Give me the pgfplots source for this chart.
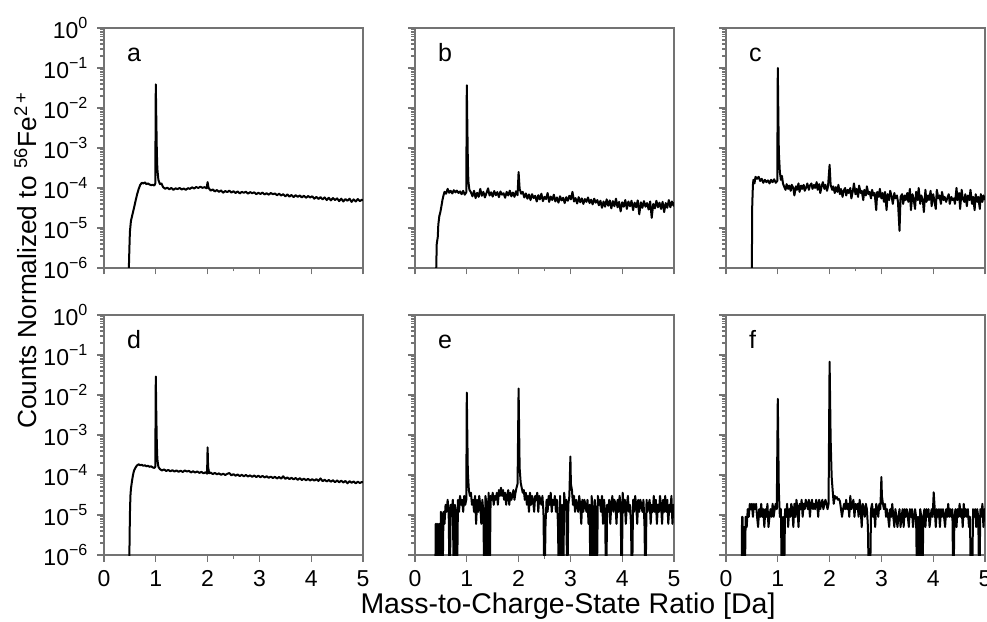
\documentclass[border=0pt]{standalone}
\usepackage{fontspec}
\setmainfont{Liberation Sans}
\usepackage{pgfplots}
\pgfplotsset{compat=1.18}
\usepgfplotslibrary{groupplots}
\usetikzlibrary{calc}

\pgfplotsset{
  spec/.style={
    scale only axis, width=103.6pt, height=96pt,
    xmin=0, xmax=5, ymode=log, ymin=1e-6, ymax=1,
    xtick={0,1,2,3,4,5}, minor xtick={2.5},
    ytick={1e-6,1e-5,1e-4,1e-3,1e-2,1e-1,1},
    yticklabels={10\textsuperscript{−6},10\textsuperscript{−5},10\textsuperscript{−4},10\textsuperscript{−3},10\textsuperscript{−2},10\textsuperscript{−1},10\textsuperscript{0}},
    minor ytick={2e-6,3e-6,4e-6,5e-6,6e-6,7e-6,8e-6,9e-6,
      2e-5,3e-5,4e-5,5e-5,6e-5,7e-5,8e-5,9e-5,
      2e-4,3e-4,4e-4,5e-4,6e-4,7e-4,8e-4,9e-4,
      2e-3,3e-3,4e-3,5e-3,6e-3,7e-3,8e-3,9e-3,
      2e-2,3e-2,4e-2,5e-2,6e-2,7e-2,8e-2,9e-2,
      0.2,0.3,0.4,0.5,0.6,0.7,0.8,0.9},
    tick pos=left, tick align=outside,
    major tick length=2.6pt, minor tick length=1.4pt,
    axis line style={black!55, line width=0.5pt},
    every tick/.style={black!55, line width=0.5pt},
    ticklabel style={font=\fontsize{9.2}{11}\selectfont, text=black},
    /pgf/number format/assume math mode=true,
  },
  dat/.style={black, mark=none, line width=0.8pt, line join=round},
}
\tikzset{letter/.style={anchor=base west, font=\fontsize{10}{12}\selectfont}}

\begin{document}
\begin{tikzpicture}
\begin{groupplot}[
  group style={group size=3 by 2, horizontal sep=20.8pt, vertical sep=18.8pt,
    x descriptions at=edge bottom, y descriptions at=edge left},
  spec]

% a
\nextgroupplot
\addplot[dat] coordinates {
(0.47,1e-7)(0.48,1e-6)(0.49,3e-6)(0.50,8e-6)(0.52,1.5e-5)(0.55,2.2e-5)(0.58,3.2e-5)(0.61,4.8e-5)(0.64,7e-5)(0.67,9.5e-5)
(0.70,1.2e-4)(0.73,1.35e-4)(0.76,1.3e-4)(0.79,1.38e-4)(0.82,1.25e-4)(0.85,1.3e-4)(0.88,1.22e-4)(0.91,1.18e-4)(0.94,1.2e-4)(0.97,1.15e-4)
(0.99,1.3e-4)(1.00,3.9e-2)(1.01,5e-3)(1.02,8e-4)(1.03,3e-4)(1.05,1.6e-4)(1.08,1.25e-4)(1.11,1.3e-4)(1.14,1.05e-4)
(1.18,9.6e-5)(1.22,1.02e-4)(1.26,9.3e-5)(1.30,1.0e-4)(1.34,9.0e-5)(1.38,9.8e-5)(1.42,9.4e-5)(1.46,1.0e-4)(1.50,9.2e-5)(1.54,9.7e-5)
(1.58,9.0e-5)(1.62,9.9e-5)(1.66,9.5e-5)(1.70,1.04e-4)(1.74,9.7e-5)(1.78,1.06e-4)(1.82,1.0e-4)(1.86,1.08e-4)(1.90,1.01e-4)(1.94,1.05e-4)
(1.98,9.8e-5)(2.00,1.4e-4)(2.02,1.0e-4)(2.06,8.6e-5)(2.10,9.2e-5)(2.14,8.2e-5)(2.18,8.9e-5)(2.22,8.0e-5)(2.26,8.7e-5)(2.30,7.6e-5)
(2.34,8.4e-5)(2.38,7.9e-5)(2.42,8.6e-5)(2.46,7.7e-5)(2.50,8.3e-5)(2.54,7.5e-5)(2.58,8.2e-5)(2.62,7.3e-5)(2.66,8.0e-5)(2.70,7.6e-5)
(2.74,8.1e-5)(2.78,7.2e-5)(2.82,7.9e-5)(2.86,7.4e-5)(2.90,7.8e-5)(2.94,7.0e-5)(2.98,7.6e-5)(3.02,7.1e-5)(3.06,7.7e-5)(3.10,6.9e-5)
(3.14,7.4e-5)(3.18,6.8e-5)(3.22,7.5e-5)(3.26,7.0e-5)(3.30,7.3e-5)(3.34,6.6e-5)(3.38,7.2e-5)(3.42,6.5e-5)(3.46,7.0e-5)(3.50,6.2e-5)
(3.54,6.9e-5)(3.58,6.1e-5)(3.62,6.7e-5)(3.66,5.9e-5)(3.70,6.6e-5)(3.74,6.0e-5)(3.78,6.5e-5)(3.82,5.8e-5)(3.86,6.4e-5)(3.90,5.7e-5)
(3.94,6.3e-5)(3.98,5.8e-5)(4.02,6.2e-5)(4.06,5.4e-5)(4.10,6.0e-5)(4.14,5.3e-5)(4.18,5.9e-5)(4.22,5.2e-5)(4.26,5.8e-5)(4.30,5.0e-5)
(4.34,5.7e-5)(4.38,4.9e-5)(4.42,5.6e-5)(4.46,5.0e-5)(4.50,5.5e-5)(4.54,4.7e-5)(4.58,5.4e-5)(4.62,4.6e-5)(4.66,5.3e-5)(4.70,4.8e-5)
(4.74,5.4e-5)(4.78,4.5e-5)(4.82,5.2e-5)(4.86,4.6e-5)(4.90,5.3e-5)(4.94,4.7e-5)(4.98,5.1e-5)(5.00,4.9e-5)
};
\node[letter] at (rel axis cs:0.055,0.86) {a};

% b
\nextgroupplot
\addplot[dat] coordinates {
(0.40,1e-7)(0.41,1e-6)(0.42,4e-6)(0.44,6e-6)(0.45,1.2e-5)(0.47,2e-5)(0.49,2.5e-5)(0.51,3.5e-5)(0.53,5e-5)(0.55,6.5e-5)
(0.57,8e-5)(0.60,7.2e-5)(0.63,9.5e-5)(0.66,7.6e-5)(0.69,8.5e-5)(0.72,7.3e-5)(0.75,8.8e-5)(0.78,7.8e-5)(0.81,8.6e-5)(0.84,7.5e-5)
(0.87,8.2e-5)(0.90,7e-5)(0.93,8.5e-5)(0.96,6.8e-5)(0.99,7.8e-5)(1.00,3.7e-2)(1.01,4e-3)(1.02,5e-4)(1.03,1.5e-4)(1.05,9e-5)
(1.08,7.8e-5)(1.11,6.2e-5)(1.14,8.5e-5)(1.17,5.6e-5)(1.20,7.6e-5)(1.23,6.0e-5)(1.26,9.5e-5)(1.29,6.4e-5)(1.32,8.0e-5)(1.35,5.8e-5)
(1.38,7.5e-5)(1.41,9.8e-5)(1.44,6.5e-5)(1.47,7.8e-5)(1.50,6.1e-5)(1.53,8.4e-5)(1.56,6.6e-5)(1.59,7.9e-5)(1.62,5.9e-5)(1.65,8.2e-5)
(1.68,6.8e-5)(1.71,7.4e-5)(1.74,5.7e-5)(1.77,8.0e-5)(1.80,6.5e-5)(1.83,8.6e-5)(1.86,6.2e-5)(1.89,7.7e-5)(1.92,6.0e-5)(1.95,8.3e-5)
(1.98,6.6e-5)(2.00,2.5e-4)(2.02,9.5e-5)(2.05,7.2e-5)(2.08,8.0e-5)(2.11,5.8e-5)(2.14,7.3e-5)(2.17,5.4e-5)(2.20,6.9e-5)(2.23,5.0e-5)
(2.26,7.0e-5)(2.29,5.6e-5)(2.32,6.4e-5)(2.35,4.6e-5)(2.38,6.6e-5)(2.41,5.2e-5)(2.44,7.2e-5)(2.47,4.7e-5)(2.50,6.0e-5)(2.53,5.3e-5)
(2.56,7.5e-5)(2.59,4.5e-5)(2.62,6.1e-5)(2.65,5.0e-5)(2.68,6.8e-5)(2.71,4.6e-5)(2.74,5.8e-5)(2.77,4.3e-5)(2.80,6.2e-5)(2.83,4.9e-5)
(2.86,5.7e-5)(2.89,4.2e-5)(2.92,5.9e-5)(2.95,4.8e-5)(2.98,6.4e-5)(3.01,5.2e-5)(3.04,8.0e-5)(3.07,4.6e-5)(3.10,5.6e-5)(3.13,4.1e-5)
(3.16,5.9e-5)(3.19,4.4e-5)(3.22,5.5e-5)(3.25,4.0e-5)(3.28,5.3e-5)(3.31,4.5e-5)(3.34,5.8e-5)(3.37,4.2e-5)(3.40,5.1e-5)(3.43,3.9e-5)
(3.46,5.4e-5)(3.49,4.3e-5)(3.52,5.0e-5)(3.55,3.7e-5)(3.58,4.8e-5)(3.61,3.2e-5)(3.64,4.6e-5)(3.67,3.4e-5)(3.70,5.2e-5)(3.73,3.6e-5)
(3.76,4.9e-5)(3.79,3.1e-5)(3.82,4.7e-5)(3.85,3.5e-5)(3.88,5.4e-5)(3.91,3.3e-5)(3.94,4.5e-5)(3.97,2.6e-5)(4.00,4.4e-5)(4.03,3.4e-5)
(4.06,5.0e-5)(4.09,3.0e-5)(4.12,4.6e-5)(4.15,3.5e-5)(4.18,4.8e-5)(4.21,2.8e-5)(4.24,4.3e-5)(4.27,3.3e-5)(4.30,4.9e-5)(4.33,2.2e-5)
(4.36,4.4e-5)(4.39,3.2e-5)(4.42,4.7e-5)(4.45,3.4e-5)(4.48,4.2e-5)(4.51,2.9e-5)(4.54,4.6e-5)(4.57,1.8e-5)(4.60,4.0e-5)(4.63,3.1e-5)
(4.66,4.8e-5)(4.69,3.3e-5)(4.72,4.3e-5)(4.75,3.0e-5)(4.78,4.5e-5)(4.81,2.5e-5)(4.84,4.2e-5)(4.87,3.2e-5)(4.90,5.0e-5)(4.93,3.3e-5)
(4.96,4.6e-5)(4.99,3.6e-5)(5.00,4.4e-5)
};
\node[letter] at (rel axis cs:0.055,0.86) {b};

% c
\nextgroupplot
\addplot[dat] coordinates {
(0.49,1e-7)(0.50,1e-6)(0.505,3e-5)(0.51,5e-5)(0.52,1.2e-4)(0.53,1.6e-4)(0.55,1.3e-4)(0.57,1.9e-4)(0.60,1.7e-4)(0.63,1.9e-4)
(0.66,1.5e-4)(0.69,1.7e-4)(0.72,1.35e-4)(0.75,1.6e-4)(0.78,1.4e-4)(0.81,1.55e-4)(0.84,1.3e-4)(0.87,1.6e-4)(0.90,1.4e-4)(0.93,1.65e-4)
(0.96,1.35e-4)(0.99,1.5e-4)(1.00,1e-1)(1.01,8e-3)(1.02,8e-4)(1.04,2.5e-4)(1.06,1.6e-4)(1.08,2e-4)(1.10,1.3e-4)
(1.12,1.1e-4)(1.15,9.0e-5)(1.17,1.25e-4)(1.20,9.5e-5)(1.22,1.15e-4)(1.25,8.5e-5)(1.27,1.2e-4)(1.30,1.0e-4)(1.32,6.5e-5)(1.35,1.1e-4)
(1.37,9.0e-5)(1.40,1.3e-4)(1.42,8.0e-5)(1.45,1.15e-4)(1.47,9.5e-5)(1.50,1.2e-4)(1.52,8.5e-5)(1.55,1.05e-4)(1.57,1.3e-4)(1.60,9.0e-5)
(1.62,1.15e-4)(1.65,1.3e-4)(1.67,9.5e-5)(1.70,1.2e-4)(1.72,1.0e-4)(1.75,1.4e-4)(1.77,9.0e-5)(1.80,1.25e-4)(1.82,7.5e-5)(1.85,1.15e-4)
(1.87,1.4e-4)(1.90,9.5e-5)(1.92,1.2e-4)(1.95,8.5e-5)(1.97,1.1e-4)(2.00,3.8e-4)(2.02,1.2e-4)(2.05,9.0e-5)(2.07,1.1e-4)(2.10,7.5e-5)
(2.12,1.05e-4)(2.15,8.0e-5)(2.17,1.2e-4)(2.20,7.0e-5)(2.22,9.5e-5)(2.25,6.0e-5)(2.27,8.5e-5)(2.30,1.0e-4)(2.32,6.5e-5)(2.35,9.0e-5)
(2.37,7.5e-5)(2.40,1.0e-4)(2.42,5.5e-5)(2.45,8.5e-5)(2.47,1.3e-4)(2.50,7.0e-5)(2.52,9.5e-5)(2.55,6.0e-5)(2.57,1.15e-4)(2.60,7.5e-5)
(2.62,8.5e-5)(2.65,5.0e-5)(2.67,9.0e-5)(2.70,6.5e-5)(2.72,1.1e-4)(2.75,7.0e-5)(2.77,8.0e-5)(2.80,5.5e-5)(2.82,9.0e-5)(2.85,6.5e-5)
(2.87,7.5e-5)(2.90,2.8e-5)(2.92,8.0e-5)(2.95,6.0e-5)(2.97,9.5e-5)(3.00,5.5e-5)(3.02,7.5e-5)(3.05,4.5e-5)(3.07,8.0e-5)(3.10,2.8e-5)
(3.12,7.0e-5)(3.15,5.0e-5)(3.17,8.5e-5)(3.20,6.0e-5)(3.22,4.0e-5)(3.25,7.5e-5)(3.27,5.5e-5)(3.30,6.5e-5)(3.32,4.5e-5)(3.35,8.5e-6)
(3.37,6.0e-5)(3.40,7.0e-5)(3.42,4.0e-5)(3.45,6.5e-5)(3.47,5.0e-5)(3.50,7.5e-5)(3.52,4.5e-5)(3.55,9.5e-5)(3.57,2.8e-5)(3.60,7.0e-5)
(3.62,5.5e-5)(3.65,3.0e-5)(3.67,8.0e-5)(3.70,5.0e-5)(3.72,1.0e-4)(3.75,4.0e-5)(3.77,6.5e-5)(3.80,5.0e-5)(3.82,2.5e-5)(3.85,9.0e-5)
(3.87,4.5e-5)(3.90,6.5e-5)(3.92,5.0e-5)(3.95,8.5e-5)(3.97,3.5e-5)(4.00,7.0e-5)(4.02,5.0e-5)(4.05,3.0e-5)(4.07,9.0e-5)(4.10,5.5e-5)
(4.12,6.5e-5)(4.15,4.0e-5)(4.17,8.0e-5)(4.20,5.0e-5)(4.22,6.0e-5)(4.25,4.5e-5)(4.27,5.5e-5)(4.30,7.0e-5)(4.32,4.0e-5)(4.35,6.0e-5)
(4.37,5.0e-5)(4.40,5.5e-5)(4.42,4.0e-5)(4.45,1.0e-4)(4.47,5.0e-5)(4.50,7.5e-5)(4.52,3.0e-5)(4.55,9.0e-5)(4.57,5.5e-5)(4.60,4.5e-5)
(4.62,7.0e-5)(4.65,3.5e-5)(4.67,6.5e-5)(4.70,5.0e-5)(4.72,9.0e-5)(4.75,4.0e-5)(4.77,6.0e-5)(4.80,2.8e-5)(4.82,7.0e-5)(4.85,4.5e-5)
(4.87,6.0e-5)(4.90,3.0e-5)(4.92,7.0e-5)(4.95,4.5e-5)(4.97,6.5e-5)(5.00,5.0e-5)
};
\node[letter] at (rel axis cs:0.055,0.86) {c};

% d
\nextgroupplot
\addplot[dat] coordinates {
(0.47,1e-7)(0.49,1e-6)(0.50,1e-5)(0.51,3e-5)(0.52,4.5e-5)(0.54,7e-5)(0.56,1e-4)(0.58,1.3e-4)(0.61,1.55e-4)(0.64,1.75e-4)
(0.67,1.85e-4)(0.70,1.75e-4)(0.73,1.8e-4)(0.76,1.7e-4)(0.79,1.75e-4)(0.82,1.65e-4)(0.85,1.7e-4)(0.88,1.6e-4)(0.91,1.65e-4)(0.94,1.55e-4)
(0.97,1.5e-4)(0.99,1.6e-4)(1.00,2.9e-2)(1.01,3e-3)(1.02,6e-4)(1.03,2.5e-4)(1.05,1.6e-4)(1.08,1.4e-4)
(1.12,1.3e-4)(1.16,1.38e-4)(1.20,1.26e-4)(1.24,1.34e-4)(1.28,1.24e-4)(1.32,1.32e-4)(1.36,1.22e-4)(1.40,1.3e-4)(1.44,1.2e-4)(1.48,1.28e-4)
(1.52,1.19e-4)(1.56,1.3e-4)(1.60,1.22e-4)(1.64,1.27e-4)(1.68,1.16e-4)(1.72,1.24e-4)(1.76,1.15e-4)(1.80,1.23e-4)(1.84,1.13e-4)(1.88,1.2e-4)
(1.92,1.1e-4)(1.96,1.17e-4)(1.99,1.08e-4)(2.00,4.9e-4)(2.01,1.6e-4)(2.03,1.1e-4)(2.06,1.15e-4)(2.10,1.05e-4)(2.14,1.13e-4)(2.18,1.04e-4)
(2.22,1.1e-4)(2.26,1.01e-4)(2.30,1.08e-4)(2.34,1.0e-4)(2.38,1.07e-4)(2.42,1.12e-4)(2.46,9.8e-5)(2.50,1.05e-4)(2.54,9.6e-5)(2.58,1.03e-4)
(2.62,9.4e-5)(2.66,1.01e-4)(2.70,9.3e-5)(2.74,1.0e-4)(2.78,9.2e-5)(2.82,9.8e-5)(2.86,9.0e-5)(2.90,9.7e-5)(2.94,8.9e-5)(2.98,9.6e-5)
(3.02,8.8e-5)(3.06,9.5e-5)(3.10,8.7e-5)(3.14,9.3e-5)(3.18,8.5e-5)(3.22,9.1e-5)(3.26,8.4e-5)(3.30,9.0e-5)(3.34,8.2e-5)(3.38,8.9e-5)
(3.42,8.1e-5)(3.46,9.3e-5)(3.50,8.0e-5)(3.54,8.7e-5)(3.58,7.9e-5)(3.62,8.5e-5)(3.66,7.8e-5)(3.70,8.4e-5)(3.74,7.6e-5)(3.78,8.3e-5)
(3.82,7.5e-5)(3.86,8.1e-5)(3.90,7.4e-5)(3.94,8.0e-5)(3.98,7.3e-5)(4.02,7.9e-5)(4.06,7.2e-5)(4.10,7.9e-5)(4.14,7.1e-5)(4.18,8.2e-5)
(4.22,7.0e-5)(4.26,7.6e-5)(4.30,6.9e-5)(4.34,7.5e-5)(4.38,6.8e-5)(4.42,7.4e-5)(4.46,6.6e-5)(4.50,7.3e-5)(4.54,6.6e-5)(4.58,7.2e-5)
(4.62,6.5e-5)(4.66,7.1e-5)(4.70,6.2e-5)(4.74,7.0e-5)(4.78,6.4e-5)(4.82,6.9e-5)(4.86,6.2e-5)(4.90,6.8e-5)(4.94,6.3e-5)(4.98,6.7e-5)
(5.00,6.5e-5)
};
\node[letter] at (rel axis cs:0.055,0.86) {d};

% e
\nextgroupplot
\addplot[dat] coordinates {
(0.39,1e-7)(0.40,6e-6)(0.41,6e-6)(0.42,1e-7)(0.44,6e-6)(0.45,1e-7)(0.47,6e-6)(0.48,1e-7)(0.50,1.2e-5)(0.52,6e-6)
(0.53,1e-7)(0.55,1.2e-5)(0.57,6e-6)(0.59,1.8e-5)(0.61,1.2e-5)(0.63,2.4e-5)(0.65,1.2e-5)(0.67,1e-7)(0.69,1.8e-5)(0.71,1.2e-5)
(0.73,2.4e-5)(0.75,1e-7)(0.77,1.8e-5)(0.79,1.2e-5)(0.81,1e-7)(0.83,2.4e-5)(0.85,1.2e-5)(0.87,3e-5)(0.89,1.8e-5)(0.91,2.4e-5)
(0.93,1.2e-5)(0.95,3e-5)(0.97,1.8e-5)(0.99,2.4e-5)(1.00,1.15e-2)(1.01,1e-3)(1.02,1.2e-4)(1.04,4.2e-5)(1.06,3e-5)(1.08,3.6e-5)
(1.10,1.8e-5)(1.12,2.4e-5)(1.14,1.2e-5)(1.16,3e-5)(1.18,6e-6)(1.20,2.4e-5)(1.22,1.2e-5)(1.24,3e-5)(1.26,1.8e-5)(1.28,6e-6)
(1.30,2.4e-5)(1.32,1.2e-5)(1.34,1e-7)(1.36,3e-5)(1.38,1.8e-5)(1.40,1e-7)(1.42,3.6e-5)(1.44,1e-7)(1.46,3e-5)(1.48,2.4e-5)
(1.50,3.6e-5)(1.52,1.8e-5)(1.54,3e-5)(1.56,2.4e-5)(1.58,3.6e-5)(1.60,1.8e-5)(1.62,4.2e-5)(1.64,3e-5)(1.66,4.8e-5)(1.68,3e-5)
(1.70,4.2e-5)(1.72,2.4e-5)(1.74,3.6e-5)(1.76,1.8e-5)(1.78,3e-5)(1.80,4.2e-5)(1.82,1.8e-5)(1.84,3.6e-5)(1.86,2.4e-5)(1.88,3e-5)
(1.90,4.2e-5)(1.92,2.4e-5)(1.94,3.6e-5)(1.96,4.8e-5)(1.98,6e-5)(2.00,1.45e-2)(2.01,1.5e-3)(2.02,1.5e-4)(2.04,6.5e-5)(2.06,4.8e-5)
(2.08,3.6e-5)(2.10,4.2e-5)(2.12,2.4e-5)(2.14,3.6e-5)(2.16,1.8e-5)(2.18,3e-5)(2.20,1.2e-5)(2.22,3.6e-5)(2.24,1.8e-5)(2.26,3e-5)
(2.28,2.4e-5)(2.30,1.2e-5)(2.32,3e-5)(2.34,2.4e-5)(2.36,3.6e-5)(2.38,1.2e-5)(2.40,3e-5)(2.42,2.4e-5)(2.44,1.8e-5)(2.46,3e-5)
(2.48,1.2e-5)(2.50,1e-7)(2.52,6e-6)(2.54,2.4e-5)(2.56,1.2e-5)(2.58,3e-5)(2.60,1.8e-5)(2.62,3.6e-5)(2.64,1.2e-5)(2.66,2.4e-5)
(2.68,1.8e-5)(2.70,3e-5)(2.72,1.2e-5)(2.74,2.4e-5)(2.76,6e-6)(2.78,1e-7)(2.80,3e-5)(2.82,1e-7)(2.84,1.8e-5)(2.86,1e-7)
(2.88,3.6e-5)(2.90,1.8e-5)(2.92,2.4e-5)(2.94,1e-7)(2.96,1.8e-5)(2.98,3e-5)(3.00,2.9e-4)(3.01,6e-5)(3.03,4.2e-5)(3.05,1.8e-5)
(3.07,3e-5)(3.09,1.2e-5)(3.11,2.4e-5)(3.13,1.8e-5)(3.15,1.2e-5)(3.17,3e-5)(3.19,1.8e-5)(3.21,6e-6)(3.23,2.4e-5)(3.25,1.2e-5)
(3.27,2.4e-5)(3.29,1.8e-5)(3.31,1.2e-5)(3.33,2.4e-5)(3.35,6e-6)(3.37,1.8e-5)(3.39,1e-7)(3.41,3e-5)(3.43,1.2e-5)(3.45,1e-7)
(3.47,2.4e-5)(3.49,1.2e-5)(3.51,1e-7)(3.53,3e-5)(3.55,1.8e-5)(3.57,2.4e-5)(3.59,1.2e-5)(3.61,3e-5)(3.63,6e-6)(3.65,2.4e-5)
(3.67,1.2e-5)(3.69,1e-7)(3.71,1.8e-5)(3.73,1.2e-5)(3.75,2.4e-5)(3.77,6e-6)(3.79,1.8e-5)(3.81,3e-5)(3.83,1.2e-5)(3.85,2.4e-5)
(3.87,1.8e-5)(3.89,6e-6)(3.91,2.4e-5)(3.93,1.2e-5)(3.95,3e-5)(3.97,1.8e-5)(3.99,1e-7)(4.01,3.6e-5)(4.03,1.2e-5)(4.05,2.4e-5)
(4.07,6e-6)(4.09,1.8e-5)(4.11,3e-5)(4.13,1.2e-5)(4.15,1.8e-5)(4.17,6e-6)(4.19,1e-7)(4.21,2.4e-5)(4.23,1.2e-5)(4.25,3e-5)
(4.27,1.8e-5)(4.29,6e-6)(4.31,2.4e-5)(4.33,1.2e-5)(4.35,2.4e-5)(4.37,1.8e-5)(4.39,1.2e-5)(4.41,2.4e-5)(4.43,6e-6)(4.45,1e-7)
(4.47,2.4e-5)(4.49,1.2e-5)(4.51,1.8e-5)(4.53,2.4e-5)(4.55,6e-6)(4.57,1.8e-5)(4.59,1.2e-5)(4.61,3e-5)(4.63,1.2e-5)(4.65,2.4e-5)
(4.67,6e-6)(4.69,1.8e-5)(4.71,1.2e-5)(4.73,3e-5)(4.75,1.8e-5)(4.77,6e-6)(4.79,2.4e-5)(4.81,1.2e-5)(4.83,3e-5)(4.85,1.2e-5)
(4.87,2.4e-5)(4.89,6e-6)(4.91,1.8e-5)(4.93,1.2e-5)(4.95,3e-5)(4.97,6e-6)(4.99,1.8e-5)(5.00,1.2e-5)
};
\node[letter] at (rel axis cs:0.055,0.86) {e};

% f
\nextgroupplot
\addplot[dat] coordinates {
(0.30,1e-7)(0.31,9e-6)(0.32,9e-6)(0.33,1e-7)(0.35,5e-6)(0.36,1e-7)(0.38,9e-6)(0.40,5e-6)(0.42,1.4e-5)(0.44,9e-6)
(0.46,1.9e-5)(0.48,1.4e-5)(0.50,1.9e-5)(0.52,9e-6)(0.54,1.9e-5)(0.56,1.4e-5)(0.58,1.9e-5)(0.60,9e-6)(0.62,5e-6)(0.64,1.4e-5)
(0.66,9e-6)(0.68,1.9e-5)(0.70,9e-6)(0.72,1.4e-5)(0.74,5e-6)(0.76,1.4e-5)(0.78,9e-6)(0.80,1.9e-5)(0.82,5e-6)(0.84,9e-6)
(0.86,1.4e-5)(0.88,9e-6)(0.90,1.9e-5)(0.92,9e-6)(0.94,1.4e-5)(0.96,1.9e-5)(0.98,1.4e-5)(1.00,8e-3)(1.01,6e-4)(1.02,4e-5)
(1.04,9e-6)(1.06,1.4e-5)(1.08,1e-7)(1.10,9e-6)(1.12,1e-7)(1.14,1.4e-5)(1.16,9e-6)(1.18,1.9e-5)(1.20,5e-6)(1.22,1.4e-5)
(1.24,9e-6)(1.26,1.9e-5)(1.28,1.4e-5)(1.30,5e-6)(1.32,1.9e-5)(1.34,9e-6)(1.36,2.4e-5)(1.38,1.4e-5)(1.40,5e-6)(1.42,1.9e-5)
(1.44,1.4e-5)(1.46,2.4e-5)(1.48,9e-6)(1.50,1.9e-5)(1.52,1.4e-5)(1.54,2.4e-5)(1.56,1.9e-5)(1.58,1.4e-5)(1.60,2.4e-5)(1.62,9e-6)
(1.64,1.9e-5)(1.66,2.4e-5)(1.68,1.4e-5)(1.70,1.9e-5)(1.72,1.4e-5)(1.74,2.4e-5)(1.76,1.9e-5)(1.78,9e-6)(1.80,2.4e-5)(1.82,1.4e-5)
(1.84,1.9e-5)(1.86,2.4e-5)(1.88,1.4e-5)(1.90,1.9e-5)(1.92,2.4e-5)(1.94,1.9e-5)(1.96,1.4e-5)(1.98,1.9e-5)(2.00,6.8e-2)(2.01,8e-3)
(2.02,8e-4)(2.04,9e-5)(2.06,4e-5)(2.08,1.9e-5)(2.10,3e-5)(2.12,2.6e-5)(2.14,2.8e-5)(2.16,2.4e-5)(2.18,2.5e-5)(2.20,2.2e-5)
(2.22,1.4e-5)(2.24,9e-6)(2.26,1.4e-5)(2.28,1.9e-5)(2.30,1.4e-5)(2.32,2.4e-5)(2.34,1.4e-5)(2.36,1.9e-5)(2.38,9e-6)(2.40,3e-5)
(2.42,1.4e-5)(2.44,1.9e-5)(2.46,2.4e-5)(2.48,9e-6)(2.50,1.9e-5)(2.52,1.4e-5)(2.54,1.9e-5)(2.56,9e-6)(2.58,2.4e-5)(2.60,1.4e-5)
(2.62,5e-6)(2.64,1.9e-5)(2.66,1.4e-5)(2.68,9e-6)(2.70,1.9e-5)(2.72,1.4e-5)(2.74,5e-6)(2.76,1e-7)(2.78,1e-7)(2.80,1.4e-5)
(2.82,1.9e-5)(2.84,9e-6)(2.86,1.4e-5)(2.88,5e-6)(2.90,1.9e-5)(2.92,1.4e-5)(2.94,9e-6)(2.96,1.9e-5)(2.98,1.4e-5)(3.00,8.9e-5)
(3.01,3e-5)(3.03,1.9e-5)(3.05,1.4e-5)(3.07,1.9e-5)(3.09,9e-6)(3.11,1.4e-5)(3.13,9e-6)(3.15,5e-6)(3.17,1.4e-5)(3.19,9e-6)
(3.21,1.9e-5)(3.23,9e-6)(3.25,5e-6)(3.27,1.4e-5)(3.29,9e-6)(3.31,5e-6)(3.33,9e-6)(3.35,1.4e-5)(3.37,5e-6)(3.39,9e-6)
(3.41,1.4e-5)(3.43,5e-6)(3.45,1.4e-5)(3.47,9e-6)(3.49,1.4e-5)(3.51,9e-6)(3.53,5e-6)(3.55,1.4e-5)(3.57,9e-6)(3.59,1.4e-5)
(3.61,5e-6)(3.63,9e-6)(3.65,1.4e-5)(3.67,9e-6)(3.69,1e-7)(3.71,9e-6)(3.73,1e-7)(3.75,1.4e-5)(3.77,9e-6)(3.79,1e-7)
(3.81,9e-6)(3.83,1.4e-5)(3.85,5e-6)(3.87,1.4e-5)(3.89,9e-6)(3.91,1.4e-5)(3.93,5e-6)(3.95,9e-6)(3.97,1.4e-5)(3.99,9e-6)
(4.01,3.7e-5)(4.03,1.4e-5)(4.05,5e-6)(4.07,1.4e-5)(4.09,9e-6)(4.11,1.4e-5)(4.13,5e-6)(4.15,1.4e-5)(4.17,9e-6)(4.19,1.4e-5)
(4.21,9e-6)(4.23,5e-6)(4.25,1.4e-5)(4.27,9e-6)(4.29,1.9e-5)(4.31,9e-6)(4.33,1.4e-5)(4.35,9e-6)(4.37,1.4e-5)(4.39,1e-7)
(4.41,9e-6)(4.43,1.4e-5)(4.45,5e-6)(4.47,1.4e-5)(4.49,9e-6)(4.51,1.9e-5)(4.53,9e-6)(4.55,1.4e-5)(4.57,5e-6)(4.59,1.9e-5)
(4.61,9e-6)(4.63,1.4e-5)(4.65,9e-6)(4.67,1.4e-5)(4.69,5e-6)(4.71,9e-6)(4.73,1e-7)(4.75,1e-7)(4.77,1.4e-5)(4.79,9e-6)
(4.81,1.4e-5)(4.83,5e-6)(4.85,1.4e-5)(4.87,9e-6)(4.89,1e-7)(4.91,1.4e-5)(4.93,9e-6)(4.95,1.9e-5)(4.97,5e-6)(4.99,1.4e-5)
(5.00,9e-6)
};
\node[letter] at (rel axis cs:0.055,0.86) {f};
\end{groupplot}

\node[rotate=90, anchor=base, font=\fontsize{10.5}{12}\selectfont]
  at ($(group c1r1.north west)+(-26.8pt,-92.8pt)$)
  {Counts Normalized to \textsuperscript{56}Fe\textsuperscript{2\,+}};
\node[anchor=base, font=\fontsize{11.4}{13}\selectfont]
  at ($(group c2r2.south west)+(61.2pt,-23.6pt)$)
  {Mass-to-Charge-State Ratio [Da]};

\pgfresetboundingbox
\path[use as bounding box] ($(group c1r1.north west)+(-41.6pt,11.2pt)$) rectangle ($(group c1r1.north west)+(353.2pt,-237.6pt)$);
\end{tikzpicture}
\end{document}
